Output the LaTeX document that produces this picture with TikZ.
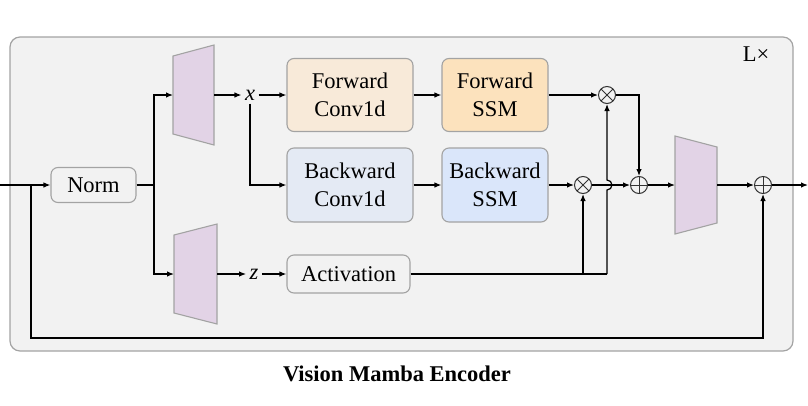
\documentclass[tikz,border=0pt]{standalone}
\usepackage{fontspec}
\setmainfont{Liberation Serif}
\usetikzlibrary{arrows.meta}
\definecolor{bgcol}{HTML}{F2F2F2}
\definecolor{bordercol}{HTML}{A3A3A3}
\definecolor{fconvcol}{HTML}{F8EAD9}
\definecolor{fssmcol}{HTML}{FCE2BD}
\definecolor{bconvcol}{HTML}{E4EAF4}
\definecolor{bssmcol}{HTML}{DAE6FA}
\definecolor{trapcol}{HTML}{E2D3E6}
\tikzset{
	blk/.style={draw=bordercol, line width=1.1pt, rounded corners=7pt, align=center, inner sep=0pt},
	arr/.style={-{Latex[length=7pt,width=5.5pt]}, line width=1.2pt},
	ln/.style={line width=1.2pt},
	trap/.style={draw=bordercol, fill=trapcol, line width=1.1pt},
	opnode/.style={circle, draw=black!80, minimum size=17pt, inner sep=0pt, line width=1pt},
	mul/.style={opnode, path picture={\draw[line width=1pt]
		(path picture bounding box.north west) -- (path picture bounding box.south east)
		(path picture bounding box.north east) -- (path picture bounding box.south west);}},
	add/.style={opnode, path picture={\draw[line width=1pt]
		(path picture bounding box.north) -- (path picture bounding box.south)
		(path picture bounding box.west) -- (path picture bounding box.east);}},
}
\begin{document}
\begin{tikzpicture}[x=1pt, y=-1pt, font=\fontsize{22.5}{28}\selectfont]
	\useasboundingbox (0,0) rectangle (808,405);
	%frame
	\draw[fill=bgcol, draw=bordercol, rounded corners=10pt, line width=1.2pt] (10,37) rectangle (793,351);
	\node[anchor=center] (rep) at (756,54) {L×};
	\node[font=\fontsize{22.5}{28}\selectfont\bfseries] (title) at (397,374) {Vision Mamba Encoder};
	%projections
	\draw[trap] (173,56) -- (214,45) -- (214,145) -- (173,134) -- cycle;
	\draw[trap] (174,235) -- (217,224) -- (217,324) -- (174,313) -- cycle;
	\draw[trap] (675,136) -- (717,147) -- (717,223) -- (675,234) -- cycle;
	\coordinate (xin) at (173,95);
	\coordinate (xout) at (214,95);
	\coordinate (zin) at (174,274);
	\coordinate (zout) at (217,274);
	\coordinate (oin) at (675,185);
	\coordinate (oout) at (717,185);
	%blocks
	\node[blk, minimum width=85pt, minimum height=35pt] (norm) at (93.5,185) {Norm};
	\node (x) at (250,95) {\textit{x}};
	\node (z) at (254,274) {\textit{z}};
	\node[blk, fill=fconvcol, minimum width=126pt, minimum height=73pt] (fconv) at (350,95) {Forward\\Conv1d};
	\node[blk, fill=fssmcol, minimum width=106pt, minimum height=73pt] (fssm) at (495,95) {Forward\\SSM};
	\node[blk, fill=bconvcol, minimum width=126pt, minimum height=74pt] (bconv) at (350,185) {Backward\\Conv1d};
	\node[blk, fill=bssmcol, minimum width=106pt, minimum height=74pt] (bssm) at (495,185) {Backward\\SSM};
	\node[blk, minimum width=123pt, minimum height=38pt] (act) at (348.5,274) {Activation};
	\node[mul] (mul1) at (607,95) {};
	\node[mul] (mul2) at (583,185) {};
	\node[add] (add1) at (639,185) {};
	\node[add] (add2) at (763,185) {};
	%connections
	\coordinate (in) at (0,185);
	\coordinate (out) at (808,185);
	\coordinate (split) at (154,185);
	\coordinate (skip) at (31,185);
	\draw[arr] (in) -- (norm.west);
	\draw[ln] (norm.east) -- (split);
	\draw[arr] (split) |- (xin);
	\draw[arr] (split) |- (zin);
	\draw[arr] (xout) -- (x.west);
	\draw[arr] (x.east) -- (fconv.west);
	\draw[arr] (x.south) |- (bconv.west);
	\draw[arr] (fconv) -- (fssm);
	\draw[arr] (bconv) -- (bssm);
	\draw[arr] (zout) -- (z.west);
	\draw[arr] (z.east) -- (act.west);
	\draw[arr] (fssm.east) -- (mul1.west);
	\draw[arr] (bssm.east) -- (mul2.west);
	\draw[arr] (mul2.east) -- (add1.west);
	\draw[arr] (mul1.east) -| (add1.north);
	\coordinate (gate) at (607,274);
	\draw[ln] (act.east) -- (gate);
	\draw[arr] (mul2.south |- act.east) -- (mul2.south);
	\draw[arr] (gate) -- (607,190) arc[start angle=-90, end angle=90, radius=5pt] -- (mul1.south);
	\draw[arr] (add1.east) -- (oin);
	\draw[arr] (oout) -- (add2.west);
	\draw[arr] (add2.east) -- (out);
	\draw[arr] (skip) -- (31,338) -| (add2.south);
\end{tikzpicture}
\end{document}
